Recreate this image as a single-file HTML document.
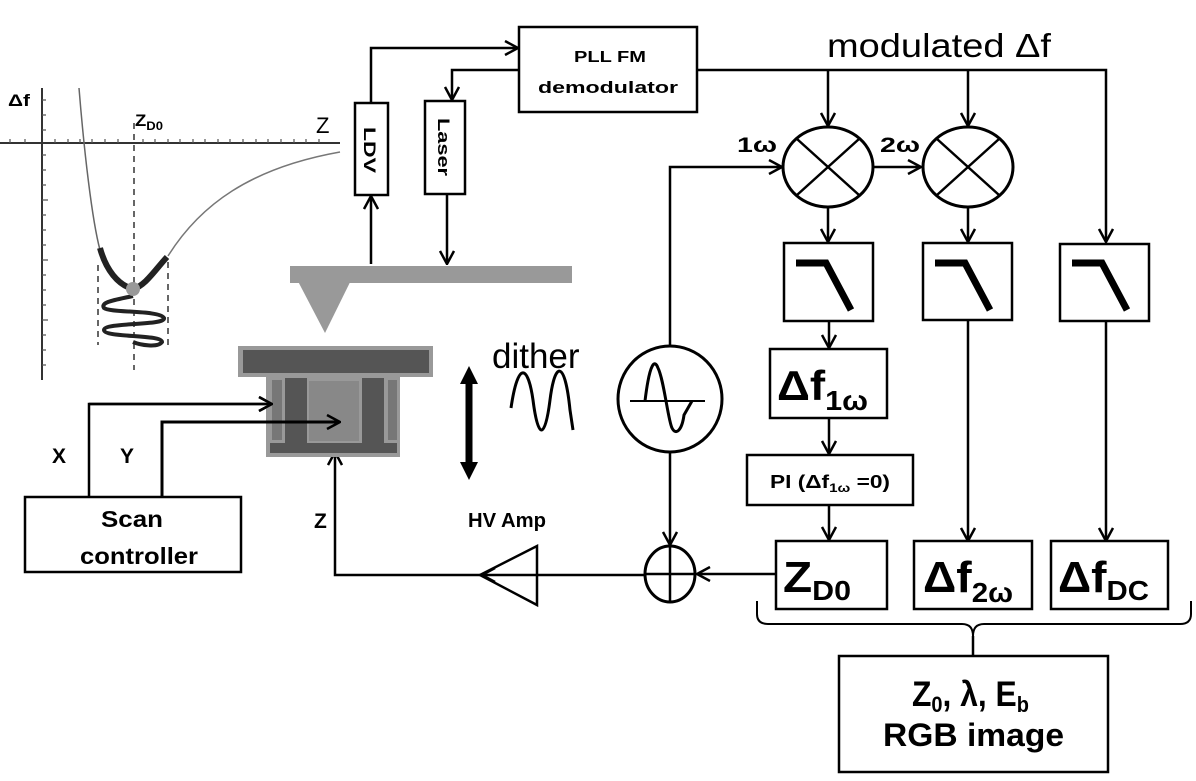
<!DOCTYPE html>
<html><head><meta charset="utf-8"><style>
html,body{margin:0;padding:0;background:#fff}
svg{display:block}
text{font-family:"Liberation Sans Narrow","Liberation Sans",sans-serif;font-weight:bold;fill:#000}
.n{font-family:"Liberation Sans",sans-serif;font-weight:normal}
</style></head><body>
<svg width="1196" height="781" viewBox="0 0 1196 781" xmlns="http://www.w3.org/2000/svg">
<defs>
<marker id="a" viewBox="0 0 16 16" refX="15" refY="8" markerWidth="16" markerHeight="16" markerUnits="userSpaceOnUse" orient="auto">
<path d="M2,1 L15,8 L2,15" fill="none" stroke="#000" stroke-width="2.5"/></marker>
</defs>
<g fill="none" stroke="#000" stroke-width="2.5">
<!-- graph -->
<line x1="42" y1="88" x2="42" y2="380" stroke="#333" stroke-width="2"/>
<line x1="0" y1="143" x2="340" y2="143" stroke="#333" stroke-width="2"/>
<g stroke="#555" stroke-width="1.2">
<path d="M42,100h4M42,115h4M42,130h4M42,155h4M42,170h4M42,185h4M42,200h6M42,215h4M42,230h4M42,245h4M42,260h6M42,275h4M42,290h4M42,305h4M42,320h6M42,335h4M42,350h4M42,365h4"/>
<path d="M10,143v-4M25,143v-4M55,143v-4M68,143v-4M80,143v-4M92,143v-4M105,143v-4M118,143v-4M143,143v-4M155,143v-4M168,143v-4M180,143v-4M193,143v-4M205,143v-4M218,143v-4M230,143v-4M243,143v-4M256,143v-4M268,143v-4M281,143v-4M294,143v-4M306,143v-4M319,143v-4"/>
</g>
<path d="M79,88 C84,150 92,220 100,250" stroke="#666" stroke-width="1.5"/>
<path d="M168,256 C200,205 250,168 340,152" stroke="#777" stroke-width="1.5"/>
<path d="M100,248 C106,270 118,285 133,289 C145,286 155,270 167,257" stroke="#222" stroke-width="6"/>
<g stroke="#333" stroke-width="1.5" stroke-dasharray="6,5">
<line x1="134" y1="123" x2="134" y2="370"/>
<line x1="98" y1="265" x2="98" y2="345"/>
<line x1="168" y1="262" x2="168" y2="345"/>
</g>
<path d="M133,296 C115,300 100,302 104,308 C110,313 160,310 164,318 C166,326 104,322 104,330 C104,338 162,334 162,342 C158,348 140,345 133,342" stroke="#222" stroke-width="4"/>
<circle cx="133" cy="289" r="7" fill="#999" stroke="none"/>
<!-- LDV / Laser -->
<rect x="355" y="103" width="33" height="92"/>
<rect x="425" y="101" width="40" height="93"/>
<rect x="519" y="27" width="178" height="85"/>
<path d="M371,103 V48 H518" marker-end="url(#a)"/>
<path d="M519,70 H452 V100" marker-end="url(#a)"/>
<path d="M371,264 V196" marker-end="url(#a)"/>
<path d="M447,194 V264" marker-end="url(#a)"/>
<!-- modulated line -->
<path d="M697,70 H1106 V242" marker-end="url(#a)"/>
<path d="M828,70 V126" marker-end="url(#a)"/>
<path d="M968,70 V126" marker-end="url(#a)"/>
<ellipse cx="828" cy="167" rx="45" ry="40" stroke-width="3"/>
<path d="M797,139 L859,195 M859,139 L797,195"/>
<ellipse cx="968" cy="167" rx="45" ry="40" stroke-width="3"/>
<path d="M937,139 L999,195 M999,139 L937,195"/>
<path d="M873,167 H921" marker-end="url(#a)"/>
<path d="M670,347 V167 H782" marker-end="url(#a)"/>
<path d="M828,207 V242" marker-end="url(#a)"/>
<path d="M968,207 V242" marker-end="url(#a)"/>
<!-- filters -->
<rect x="784" y="243" width="89" height="78"/>
<rect x="923" y="243" width="89" height="77"/>
<rect x="1060" y="244" width="89" height="77"/>
<path d="M796,263 H826 L851,310 M935,263 H965 L990,310 M1072,263 H1102 L1127,310" stroke-width="7"/>
<path d="M829,321 V348" marker-end="url(#a)"/>
<path d="M968,320 V541" marker-end="url(#a)"/>
<path d="M1106,321 V541" marker-end="url(#a)"/>
<rect x="770" y="349" width="117" height="69"/>
<path d="M829,418 V454" marker-end="url(#a)"/>
<rect x="747" y="455" width="166" height="50"/>
<path d="M829,505 V540" marker-end="url(#a)"/>
<rect x="776" y="541" width="111" height="68"/>
<rect x="914" y="541" width="118" height="68"/>
<rect x="1051" y="541" width="117" height="68"/>
<!-- oscillator, summer, amp -->
<ellipse cx="670" cy="399" rx="52" ry="53" stroke-width="3"/>
<path d="M630,401 H705" stroke-width="2"/>
<path d="M645,401 C650,360 655,360 658,368 C664,380 668,420 672,428 C676,436 682,430 684,415 L692,401" stroke-width="3"/>
<path d="M670,452 V545" marker-end="url(#a)"/>
<ellipse cx="670" cy="574" rx="25" ry="28" stroke-width="3"/>
<path d="M645,574 H695 M670,546 V602"/>
<path d="M776,574 H697" marker-end="url(#a)"/>
<path d="M645,575 H482" marker-end="url(#a)"/>
<path d="M480,575 L537,546 L537,605 Z" stroke-width="2.5"/>
<path d="M480,575 H335 V452" marker-end="url(#a)"/>
<!-- scan controller -->
<rect x="25" y="497" width="216" height="75"/>
<path d="M89,497 V404 H272" marker-end="url(#a)"/>
<path d="M162,497 V422 H340" stroke-width="3" marker-end="url(#a)"/>
<!-- brace -->
<path d="M757,601 V614 Q757,624 768,624 H962 Q973,624 973,636 Q973,624 984,624 H1180 Q1191,624 1191,614 V601" stroke-width="2"/>
<line x1="973" y1="636" x2="973" y2="656"/>
<rect x="839" y="656" width="269" height="116"/>
<!-- dither arrow -->
<path d="M469,380 V466" stroke-width="7"/>
<path d="M460,384 L469,366 L478,384 Z M460,462 L469,480 L478,462 Z" fill="#000" stroke="none"/>
<path d="M511,408 C518,360 528,365 533,400 C538,440 545,440 550,400 C555,360 565,360 570,410 L573,430" stroke-width="3"/>
</g>
<!-- cantilever -->
<rect x="290" y="266" width="282" height="17" fill="#999"/>
<path d="M290,266 L358,266 L325,333 Z" fill="#999"/>
<!-- stage -->
<rect x="238" y="346" width="195" height="31" fill="#999"/>
<rect x="243" y="350" width="186" height="23" fill="#555"/>
<rect x="266" y="376" width="134" height="81" fill="#999"/>
<rect x="272" y="380" width="10" height="60" fill="#777"/>
<rect x="388" y="380" width="9" height="60" fill="#777"/>
<rect x="285" y="378" width="22" height="72" fill="#555"/>
<rect x="362" y="378" width="22" height="72" fill="#555"/>
<rect x="270" y="443" width="127" height="10" fill="#555"/>
<rect x="308" y="380" width="52" height="62" fill="#888" stroke="#999" stroke-width="2"/>
<g stroke="#000" fill="none">
<path d="M89,404 H272" marker-end="url(#a)" stroke-width="2.5"/>
<path d="M162,422 H340" marker-end="url(#a)" stroke-width="3"/>
</g>
<!-- labels -->
<text x="8" y="106" font-size="17" textLength="22" lengthAdjust="spacingAndGlyphs">Δf</text>
<text x="135" y="126" font-size="17" textLength="28" lengthAdjust="spacingAndGlyphs">Z<tspan font-size="12" dy="4">D0</tspan></text>
<text x="316" y="133" font-size="22" class="n">Z</text>
<text transform="translate(364,150) rotate(90)" font-size="17" text-anchor="middle" textLength="46" lengthAdjust="spacingAndGlyphs">LDV</text>
<text transform="translate(438,147) rotate(90)" font-size="17" text-anchor="middle" textLength="58" lengthAdjust="spacingAndGlyphs">Laser</text>
<text x="610" y="62" font-size="16" text-anchor="middle" textLength="72" lengthAdjust="spacingAndGlyphs">PLL FM</text>
<text x="608" y="93" font-size="17" text-anchor="middle" textLength="140" lengthAdjust="spacingAndGlyphs">demodulator</text>
<text x="827" y="57" font-size="33" class="n" textLength="224" lengthAdjust="spacingAndGlyphs">modulated Δf</text>
<text x="737" y="152" font-size="21" textLength="40" lengthAdjust="spacingAndGlyphs">1ω</text>
<text x="880" y="152" font-size="21" textLength="40" lengthAdjust="spacingAndGlyphs">2ω</text>
<text x="492" y="368" font-size="35" class="n">dither</text>
<text x="777" y="400" font-size="42" textLength="91" lengthAdjust="spacingAndGlyphs">Δf<tspan font-size="28" dy="10">1ω</tspan></text>
<text x="770" y="488" font-size="18" textLength="120" lengthAdjust="spacingAndGlyphs">PI (Δf<tspan font-size="12" dy="4">1ω</tspan><tspan dy="-4"> =0)</tspan></text>
<text x="783" y="592" font-size="44" textLength="68" lengthAdjust="spacingAndGlyphs">Z<tspan font-size="28" dy="8">D0</tspan></text>
<text x="923" y="592" font-size="44" textLength="90" lengthAdjust="spacingAndGlyphs">Δf<tspan font-size="28" dy="10">2ω</tspan></text>
<text x="1058" y="592" font-size="44" textLength="91" lengthAdjust="spacingAndGlyphs">Δf<tspan font-size="28" dy="8">DC</tspan></text>
<text x="912" y="706" font-size="35" textLength="117" lengthAdjust="spacingAndGlyphs">Z<tspan font-size="22" dy="6">0</tspan><tspan dy="-6">, λ, E</tspan><tspan font-size="22" dy="6">b</tspan></text>
<text x="883" y="746" font-size="32" textLength="181" lengthAdjust="spacingAndGlyphs">RGB image</text>
<text x="468" y="527" font-size="20" textLength="78" lengthAdjust="spacingAndGlyphs">HV Amp</text>
<text x="314" y="528" font-size="21">Z</text>
<text x="52" y="463" font-size="21">X</text>
<text x="120" y="463" font-size="21">Y</text>
<text x="101" y="527" font-size="23" textLength="62" lengthAdjust="spacingAndGlyphs">Scan</text>
<text x="80" y="564" font-size="23" textLength="118" lengthAdjust="spacingAndGlyphs">controller</text>
</svg>
</body></html>
